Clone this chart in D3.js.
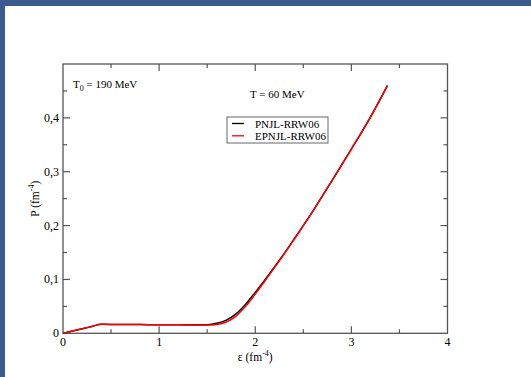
<!DOCTYPE html>
<html><head><meta charset="utf-8">
<script src="https://cdn.jsdelivr.net/npm/d3@7"></script>
<style>
html,body{margin:0;padding:0;background:#fff;}
svg{display:block;}
</style></head>
<body>
<script>
// Data (epsilon in fm^-4, P in fm^-4)
const seriesNames = ["PNJL-RRW06", "EPNJL-RRW06"];
const seriesColors = ["#000000", "#ff0000"];
const epsBlack = [0,0.1,0.2,0.3,0.4,0.6,0.8,1.0,1.2,1.4,1.5,1.6,1.7,1.8,1.9,2.0,2.1,2.2,2.3,2.4,2.5,2.6,2.8,3.0,3.2,3.375];
const pBlack   = [0,0.0042,0.0085,0.0128,0.0166,0.0164,0.0162,0.016,0.0158,0.0157,0.016,0.0185,0.0245,0.036,0.054,0.076,0.099,0.123,0.148,0.174,0.200,0.227,0.284,0.342,0.402,0.460];
const epsRed = [0,0.1,0.2,0.3,0.4,0.6,0.8,1.0,1.2,1.4,1.5,1.6,1.7,1.8,1.9,2.0,2.1,2.2,2.3,2.4,2.5,2.6,2.8,3.0,3.2,3.375];
const pRed   = [0,0.0042,0.0085,0.0128,0.0166,0.0164,0.0162,0.016,0.0158,0.0154,0.0154,0.0165,0.021,0.032,0.050,0.073,0.097,0.122,0.147,0.173,0.200,0.227,0.284,0.342,0.402,0.460];
const xTicks = [0,1,2,3,4];
const xTickLabels = ["0","1","2","3","4"];
const yTicks = [0,0.1,0.2,0.3,0.4];
const yTickLabels = ["0","0,1","0,2","0,3","0,4"];
const xMinor = [0.5,1.5,2.5,3.5];
const yMinor = [0.05,0.15,0.25,0.35,0.45];

const FONT = "Liberation Serif";
const W = 531, H = 377;
const svg = d3.select("body").append("svg").attr("width", W).attr("height", H)
  .attr("font-family", FONT);
svg.append("rect").attr("x",0).attr("y",0).attr("width",W).attr("height",H).attr("fill","#3b5b8e");
svg.append("rect").attr("x",5).attr("y",6).attr("width",W-5).attr("height",H-6).attr("fill","#ffffff");

const L = 63, R = 447.5, T = 64, B = 333.3;
const x = d3.scaleLinear().domain([0,4]).range([L,R]);
const y = d3.scaleLinear().domain([0,0.5]).range([B,T]);
const axisColor = "#555";

const g = svg.append("g");
g.append("rect").attr("x",L).attr("y",T).attr("width",R-L).attr("height",B-T)
  .attr("fill","none").attr("stroke",axisColor).attr("stroke-width",1.3);

function vt(v, len){
  g.append("line").attr("x1",x(v)).attr("x2",x(v)).attr("y1",B).attr("y2",B-len).attr("stroke",axisColor).attr("stroke-width",1.2);
  g.append("line").attr("x1",x(v)).attr("x2",x(v)).attr("y1",T).attr("y2",T+len).attr("stroke",axisColor).attr("stroke-width",1.2);
}
function ht(v, len){
  g.append("line").attr("y1",y(v)).attr("y2",y(v)).attr("x1",L).attr("x2",L+len).attr("stroke",axisColor).attr("stroke-width",1.2);
  g.append("line").attr("y1",y(v)).attr("y2",y(v)).attr("x1",R).attr("x2",R-len).attr("stroke",axisColor).attr("stroke-width",1.2);
}
xTicks.forEach(v=>{ if(v>0 && v<4) vt(v,7); });
xMinor.forEach(v=>vt(v,4));
yTicks.forEach(v=>{ if(v>0) ht(v,7); });
yMinor.forEach(v=>ht(v,4));

xTicks.forEach((v,i)=>{
  g.append("text").attr("x",x(v)).attr("y",B+13).attr("text-anchor","middle")
   .attr("font-size",12).text(xTickLabels[i]);
});
yTicks.forEach((v,i)=>{
  g.append("text").attr("x",L-4).attr("y",y(v)+4).attr("text-anchor","end")
   .attr("font-size",12).text(yTickLabels[i]);
});

const xt = g.append("text").attr("x",x(2)).attr("y",361).attr("text-anchor","middle").attr("font-size",11.5);
xt.append("tspan").text("ε (fm");
xt.append("tspan").attr("dy",-5).attr("font-size",8).text("-4");
xt.append("tspan").attr("dy",5).text(")");

const yt = g.append("text").attr("transform","translate(39,"+((T+B)/2)+") rotate(-90)")
  .attr("text-anchor","middle").attr("font-size",11.5);
yt.append("tspan").text("P (fm");
yt.append("tspan").attr("dy",-5).attr("font-size",8).text("-4");
yt.append("tspan").attr("dy",5).text(")");

const t0 = g.append("text").attr("x",73).attr("y",88).attr("font-size",11);
t0.append("tspan").text("T");
t0.append("tspan").attr("dy",3).attr("font-size",8).text("0");
t0.append("tspan").attr("dy",-3).text(" = 190 MeV");
g.append("text").attr("x",250).attr("y",98).attr("font-size",11).text("T = 60 MeV");

const line = d3.line().x(d=>x(d[0])).y(d=>y(d[1])).curve(d3.curveMonotoneX);
const dataBlack = epsBlack.map((e,i)=>[e,pBlack[i]]);
const dataRed = epsRed.map((e,i)=>[e,pRed[i]]);
g.append("path").datum(dataBlack).attr("d",line).attr("fill","none").attr("stroke",seriesColors[0]).attr("stroke-width",1.5);
g.append("path").datum(dataRed).attr("d",line).attr("fill","none").attr("stroke",seriesColors[1]).attr("stroke-width",1.5);

g.append("rect").attr("x",227).attr("y",117).attr("width",101).attr("height",26)
  .attr("fill","#fff").attr("stroke","#666").attr("stroke-width",1);
seriesNames.forEach((n,i)=>{
  const yy = 123.5 + i*12.3;
  g.append("line").attr("x1",232).attr("x2",244).attr("y1",yy).attr("y2",yy)
   .attr("stroke",seriesColors[i]).attr("stroke-width",1.3);
  g.append("text").attr("x",255).attr("y",yy+4).attr("font-size",11).text(n);
});
</script>
</body></html>
